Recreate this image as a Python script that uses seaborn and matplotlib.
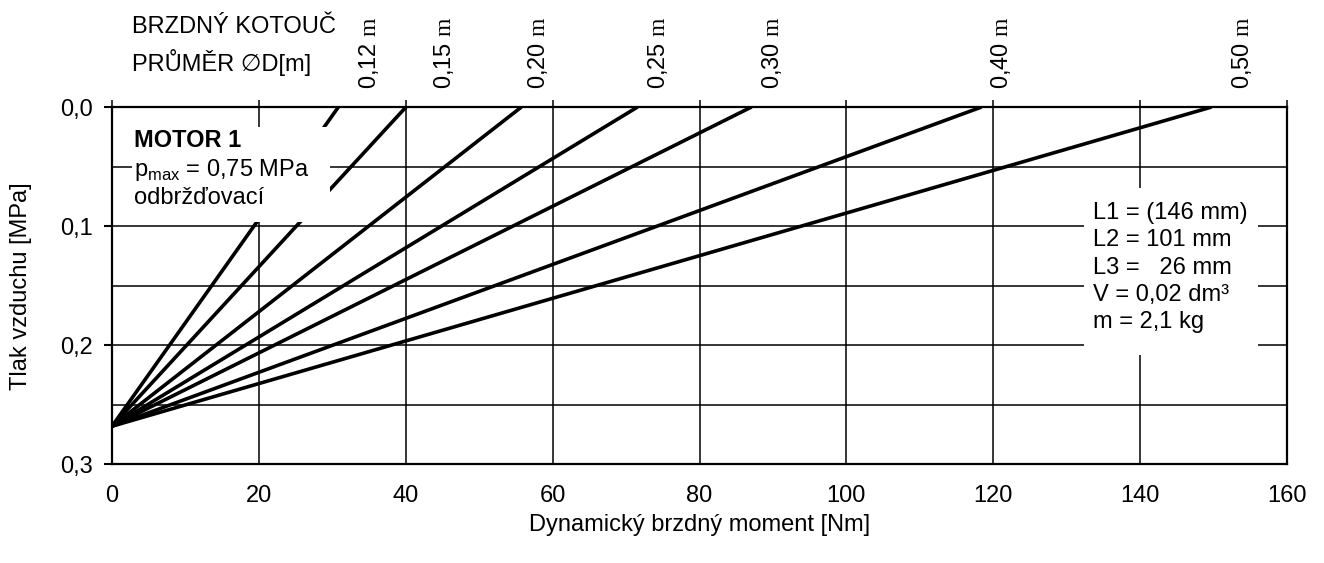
import seaborn as sns
import matplotlib.pyplot as plt
import matplotlib.transforms as mtransforms
from matplotlib.patches import Rectangle
import pandas as pd

# brake disc diameters, moment reached at zero pressure, common start pressure
prumery = ['0,12', '0,15', '0,20', '0,25', '0,30', '0,40', '0,50']
moment_max = [30.8, 40.0, 55.7, 71.5, 87.0, 118.3, 149.6]
tlak_start = 0.268
popisky_x = [35.0, 45.2, 58.0, 74.4, 89.9, 121.0, 153.9]

x_ticks = [0, 20, 40, 60, 80, 100, 120, 140, 160]
y_ticks = [0.0, 0.1, 0.2, 0.3]
y_minor = [0.05, 0.15, 0.25]
y_labels = ['0,0', '0,1', '0,2', '0,3']

parametry = ['L1 = (146 mm)', 'L2 = 101 mm', 'L3 =   26 mm', 'V = 0,02 dm³', 'm = 2,1 kg']

# long form table: one straight line per diameter
rows = []
for d, m in zip(prumery, moment_max):
    rows.append({'prumer': d, 'moment': 0.0, 'tlak': tlak_start})
    rows.append({'prumer': d, 'moment': m, 'tlak': 0.0})
df = pd.DataFrame(rows)

sns.set_theme(style='white')
plt.rcParams['font.family'] = ['Liberation Sans', 'DejaVu Sans']
plt.rcParams['mathtext.fontset'] = 'custom'
plt.rcParams['mathtext.rm'] = 'Liberation Sans'
plt.rcParams['mathtext.bf'] = 'Liberation Sans:bold'
plt.rcParams['mathtext.sf'] = 'Liberation Serif'
plt.rcParams['text.color'] = 'black'
plt.rcParams['axes.labelcolor'] = 'black'
plt.rcParams['xtick.color'] = 'black'
plt.rcParams['ytick.color'] = 'black'

FS = 17

fig = plt.figure(figsize=(13.24, 5.63), dpi=100)
ax = fig.add_axes([112 / 1324, 1 - 464.3 / 563, 1175 / 1324, 357 / 563])

sns.lineplot(data=df, x='moment', y='tlak', units='prumer', estimator=None,
             sort=False, color='black', linewidth=2.6, ax=ax, zorder=3)

ax.set_xlim(0, 160)
ax.set_ylim(0.3, 0.0)
ax.set_xticks(x_ticks)
ax.set_xticklabels([str(t) for t in x_ticks], fontsize=FS)
ax.set_yticks(y_ticks)
ax.set_yticklabels(y_labels, fontsize=FS)
ax.set_yticks(y_minor, minor=True)
ax.grid(which='both', color='black', linewidth=1.1)
ax.set_axisbelow(True)

ax.tick_params(axis='x', which='major', bottom=False, top=True, labelbottom=True,
               labeltop=False, direction='out', length=5, width=1.1, pad=10)
ax.tick_params(axis='y', which='major', left=True, direction='out', length=6,
               width=1.5, pad=8)
ax.tick_params(axis='y', which='minor', length=0)

for s in ax.spines.values():
    s.set_color('black')
    s.set_linewidth(1.6)
    s.set_zorder(6)

ax.set_xlabel('Dynamický brzdný moment [Nm]', fontsize=FS)
ax.set_ylabel('Tlak vzduchu [MPa]', fontsize=FS)
ax.xaxis.set_label_coords(0.5, -0.14)
ax.yaxis.set_label_coords(-0.068, 0.5)

# white boxes hiding the grid and lines under the notes
ax.add_patch(Rectangle((2.7, 0.0166), 27.0, 0.08, facecolor='white',
                       edgecolor='none', zorder=4))
ax.add_patch(Rectangle((132.3, 0.068), 23.7, 0.1403, facecolor='white',
                       edgecolor='none', zorder=4))

# motor note
ax.text(3.0, 0.0275, 'MOTOR 1', fontsize=FS, fontweight='bold', va='center', zorder=5)
ax.text(3.0, 0.0530, r'p$_{\mathrm{max}}$ = 0,75 MPa', fontsize=FS, va='center', zorder=5)
ax.text(3.0, 0.0760, 'odbržďovací', fontsize=FS, va='center', zorder=5)

# parameter note
for i, t in enumerate(parametry):
    ax.text(133.6, 0.0889 + i * 0.0229, t, fontsize=FS, va='center', zorder=5)

# diameter labels above the plot
trans = mtransforms.blended_transform_factory(ax.transData, ax.transAxes)
for d, xp in zip(prumery, popisky_x):
    ax.text(xp, 1.05, d + r' $\mathsf{m}$', rotation=90, ha='center', va='bottom',
            fontsize=FS, transform=trans)

fig.text(132 / 1324, 1 - 27 / 563, 'BRZDNÝ KOTOUČ', fontsize=FS, va='center')
fig.text(132 / 1324, 1 - 62 / 563, 'PRŮMĚR ∅D[m]', fontsize=FS, va='center')

fig.savefig('out.png', dpi=100)
